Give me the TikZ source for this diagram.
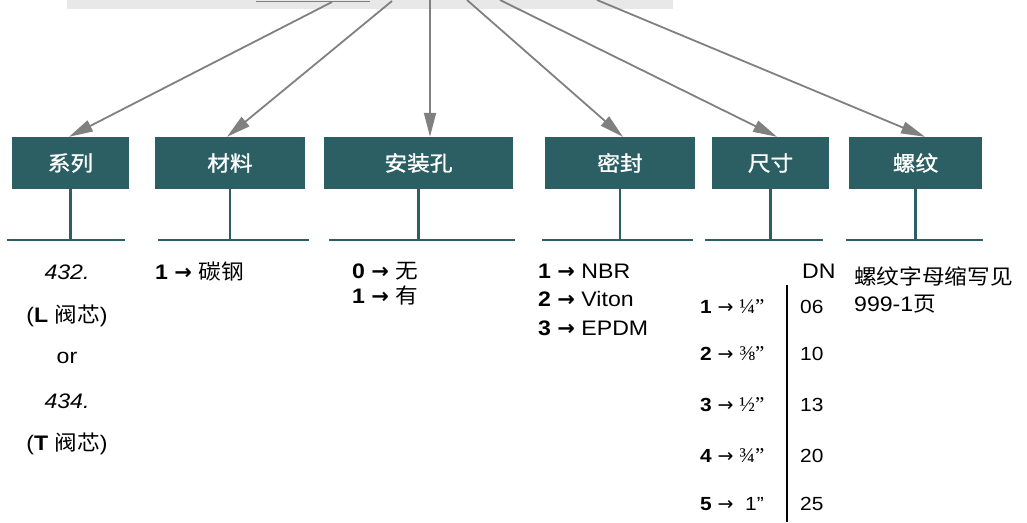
\documentclass[tikz,border=0pt]{standalone}
\usepackage{fontspec}
\setmainfont[FakeStretch=1.1]{Liberation Sans}
\newfontfamily\cjk[FakeStretch=1.08]{Noto Sans CJK SC}
\newfontfamily\cjkbold[FakeStretch=1.08,FakeBold=1.2]{Noto Sans CJK SC}
\newfontfamily\arrowfont{DejaVu Sans}
\newfontfamily\fracfont{Liberation Serif}
\usetikzlibrary{arrows.meta,calc}
\definecolor{teal1}{RGB}{44,95,99}
\definecolor{arrowgray}{RGB}{128,128,128}
\definecolor{bandgray}{RGB}{232,232,232}
\newcommand\rar{{\arrowfont\bfseries →}}
\newcommand\srar{{\arrowfont →}}
\begin{document}
\begin{tikzpicture}[x=1pt,y=-1pt,
  box/.style={fill=teal1, text=white, font=\cjkbold\fontsize{21}{25}\selectfont, minimum height=52pt, inner sep=0pt},
  stem/.style={draw=teal1, line width=2.2pt},
  baseline/.style={draw=teal1, line width=2.4pt},
  feed/.style={draw=arrowgray, line width=1.8pt, -{Triangle[length=24pt,width=12pt]}},
  txt/.style={inner sep=0pt, font=\fontsize{21}{25}\selectfont},
  stxt/.style={inner sep=0pt, font=\fontsize{19}{23}\selectfont}]
\useasboundingbox (0,0) rectangle (1027,522);
\fill[bandgray] (67,0) rectangle (673,9);
\draw[arrowgray, line width=1.4pt] (256,1.5) -- (370,1.5);

\node[box, minimum width=117pt] (b1) at (70.5,163) {系列};
\node[box, minimum width=150pt] (b2) at (230,163) {材料};
\node[box, minimum width=189pt] (b3) at (418.5,163) {安装孔};
\node[box, minimum width=150pt] (b4) at (620,163) {密封};
\node[box, minimum width=117pt] (b5) at (770.5,163) {尺寸};
\node[box, minimum width=133pt] (b6) at (915.5,163) {螺纹};

\coordinate (s1) at (332,2);
\coordinate (s2) at (392,1);
\coordinate (s3) at (430,0);
\coordinate (s4) at (467,0);
\coordinate (s5) at (500,0);
\coordinate (s6) at (597,0);
\draw[feed] (s1) -- ([xshift=-1.5pt]b1.north);
\draw[feed] (s2) -- ([xshift=-3pt]b2.north);
\draw[feed] (s3) -- (s3 |- b3.north);
\draw[feed] (s4) -- ([xshift=3pt]b4.north);
\draw[feed] (s5) -- ([xshift=6.5pt]b5.north);
\draw[feed] (s6) -- ([xshift=9.5pt]b6.north);

\foreach \b in {b1,b2,b3,b4,b5,b6}{\draw[stem] (\b.south) -- ++(0,51);}
\draw[baseline] (7,240) -- (125,240);
\draw[baseline] (158,240) -- (309,240);
\draw[baseline] (329,240) -- (515,240);
\draw[baseline] (542,240) -- (693,240);
\draw[baseline] (705,240) -- (823,240);
\draw[baseline] (846,240) -- (983,240);

% series
\node[txt, anchor=base] (c1a) at (67,279) {\itshape 432.};
\node[txt, anchor=base] (c1b) at (67,322) {(\textbf{L} {\cjk 阀芯})};
\node[txt, anchor=base] (c1c) at (67,363) {or};
\node[txt, anchor=base] (c1d) at (67,408) {\itshape 434.};
\node[txt, anchor=base] (c1e) at (67,450) {(\textbf{T} {\cjk 阀芯})};
% material
\node[txt, anchor=base west] (c2a) at (155,279) {\textbf{1} \rar\ {\cjk 碳钢}};
% mounting hole
\node[txt, anchor=base west] (c3a) at (352,278) {\textbf{0} \rar\ {\cjk 无}};
\node[txt, anchor=base west] (c3b) at (352,303) {\textbf{1} \rar\ {\cjk 有}};
% seal
\node[txt, anchor=base west] (c4a) at (538,278) {\textbf{1} \rar\ NBR};
\node[txt, anchor=base west] (c4b) at (538,306) {\textbf{2} \rar\ Viton};
\node[txt, anchor=base west] (c4c) at (538,335) {\textbf{3} \rar\ EPDM};
% size
\node[txt, anchor=base west] (dn) at (802,278) {DN};
\draw[line width=2pt] (787,285) -- (787,522);
\node[stxt, anchor=base west] (r1) at (700,313) {\textbf{1} \srar\ {\fracfont\fontsize{21}{25}\selectfont ¼”}};
\node[stxt, anchor=base west] (r2) at (700,360) {\textbf{2} \srar\ {\fracfont\fontsize{21}{25}\selectfont ⅜”}};
\node[stxt, anchor=base west] (r3) at (700,411) {\textbf{3} \srar\ {\fracfont\fontsize{21}{25}\selectfont ½”}};
\node[stxt, anchor=base west] (r4) at (700,462) {\textbf{4} \srar\ {\fracfont\fontsize{21}{25}\selectfont ¾”}};
\node[stxt, anchor=base west] (r5) at (700,510) {\textbf{5} \srar\ \ 1”};
\node[stxt, anchor=base west] (d1) at (800,313) {06};
\node[stxt, anchor=base west] (d2) at (800,360) {10};
\node[stxt, anchor=base west] (d3) at (800,411) {13};
\node[stxt, anchor=base west] (d4) at (800,462) {20};
\node[stxt, anchor=base west] (d5) at (800,510) {25};
% thread
\node[txt, anchor=base west] (c6a) at (854,284) {\cjk 螺纹字母缩写见};
\node[txt, anchor=base west] (c6b) at (854,311) {999-1{\cjk 页}};
\end{tikzpicture}
\end{document}
